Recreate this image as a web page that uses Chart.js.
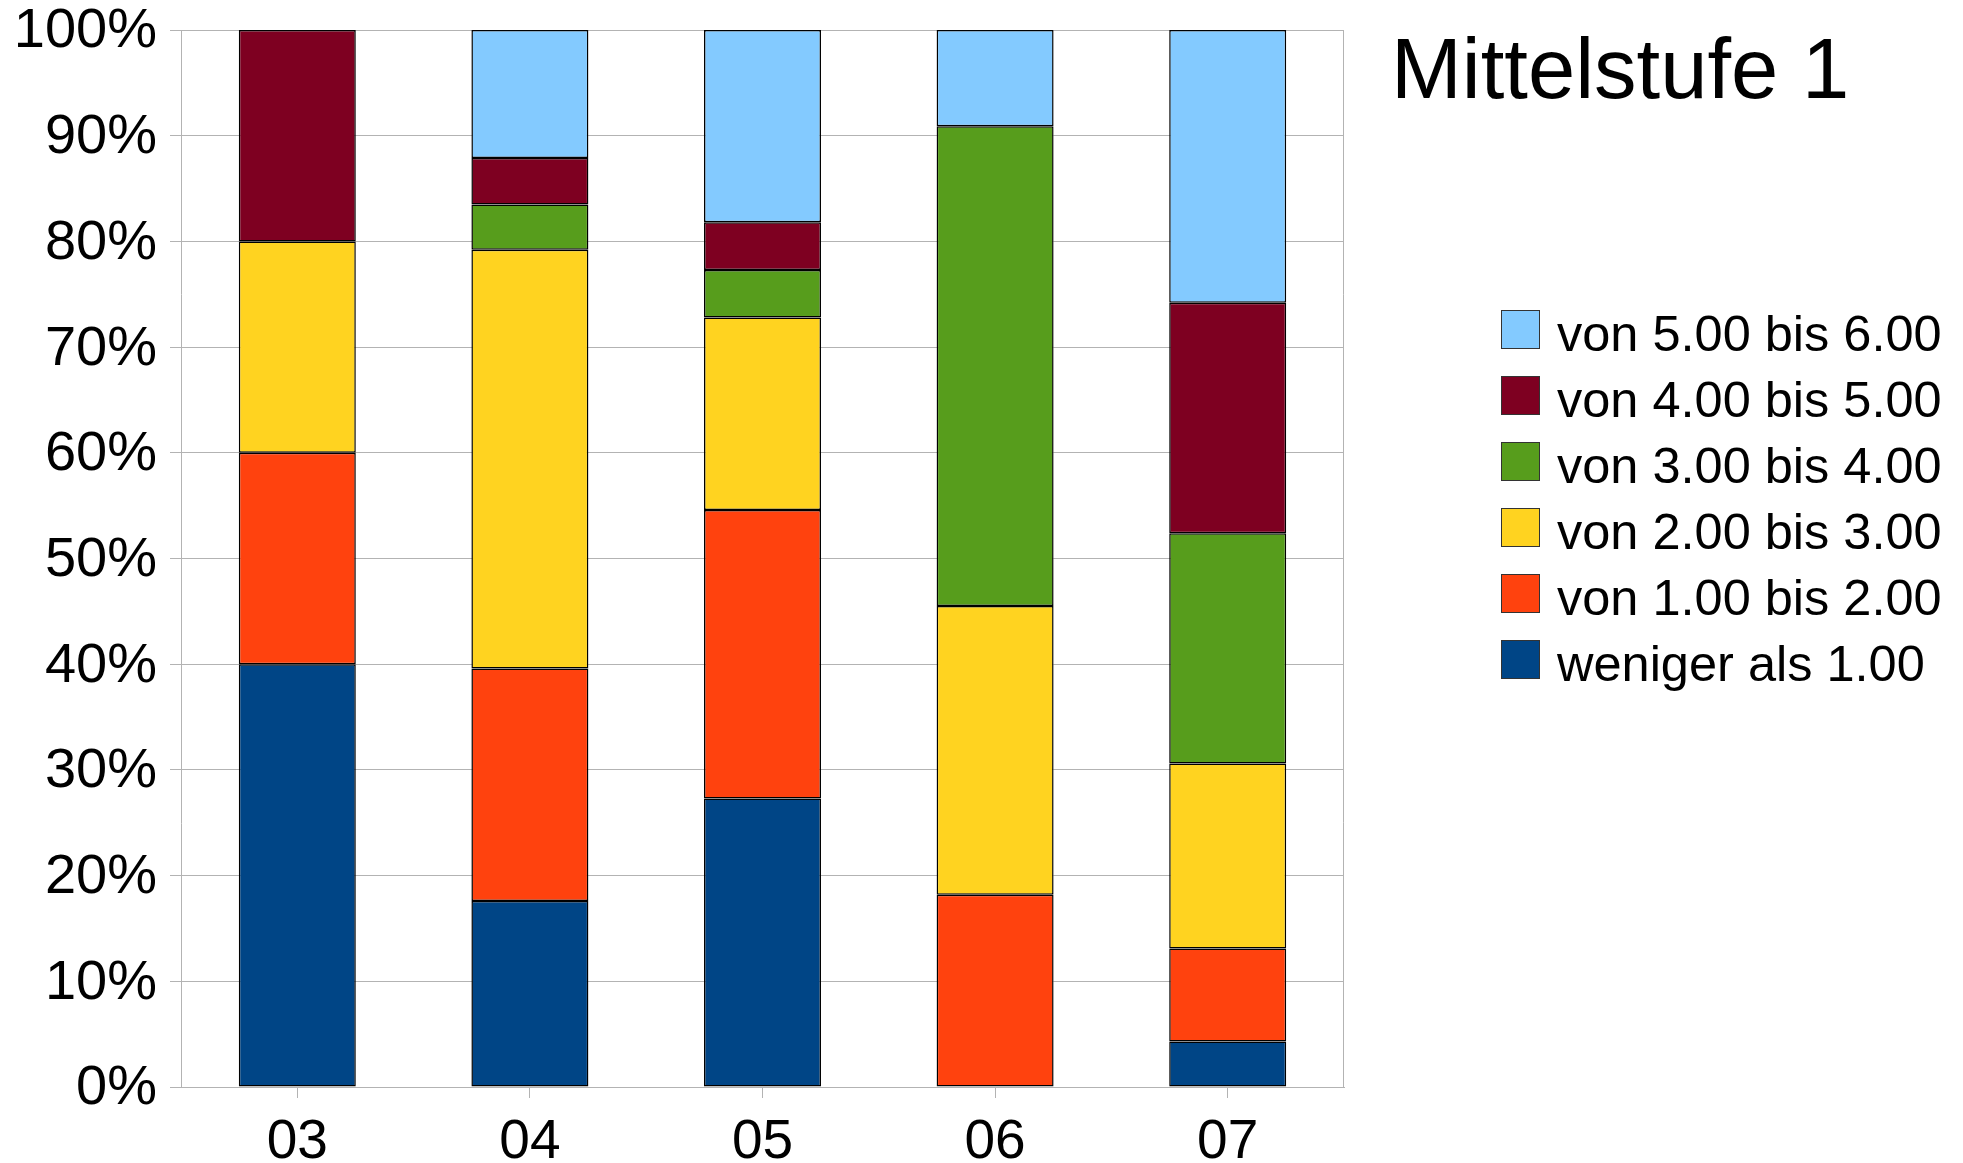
<!DOCTYPE html>
<html>
<head>
<meta charset="utf-8">
<script src="https://cdn.jsdelivr.net/npm/chart.js@4/dist/chart.umd.min.js"></script>
<style>
  html, body { margin: 0; padding: 0; background: #fff; }
  #wrap { width: 1963px; height: 1163px; position: relative; }
</style>
</head>
<body>
<div id="wrap"><canvas id="c" width="1963" height="1163"></canvas></div>
<script>
const categories = ['03', '04', '05', '06', '07'];
const titleText = 'Mittelstufe 1';
const yTickValues = [0, 10, 20, 30, 40, 50, 60, 70, 80, 90, 100];

// Percentages per category (bottom to top of stack)
const wenigerAls1 = [40, 17.6, 27.3, 0, 4.3];
const von1bis2    = [20, 22.0, 27.3, 18.2, 8.8];
const von2bis3    = [20, 39.6, 18.2, 27.3, 17.5];
const von3bis4    = [0, 4.3, 4.5, 45.4, 21.8];
const von4bis5    = [20, 4.4, 4.5, 0, 21.8];
const von5bis6    = [0, 12.1, 18.2, 9.1, 25.8];

const seriesLabels = ['weniger als 1.00', 'von 1.00 bis 2.00', 'von 2.00 bis 3.00', 'von 3.00 bis 4.00', 'von 4.00 bis 5.00', 'von 5.00 bis 6.00'];
const seriesColors = ['#004586', '#ff420e', '#ffd320', '#579d1c', '#7e0021', '#83caff'];
const seriesData = [wenigerAls1, von1bis2, von2bis3, von3bis4, von4bis5, von5bis6];

const FONT = '"Liberation Sans", Arial, sans-serif';
const GRID = '#b3b3b3';

const sidePlugin = {
  id: 'side',
  beforeDatasetsDraw(chart) {
    const ctx = chart.ctx, a = chart.chartArea;
    ctx.save();
    ctx.strokeStyle = GRID;
    ctx.lineWidth = 1;
    ctx.beginPath();
    ctx.moveTo(Math.round(a.right) - 0.5, a.top);
    ctx.lineTo(Math.round(a.right) - 0.5, a.bottom);
    ctx.stroke();
    ctx.restore();
  },
  afterDraw(chart) {
    const ctx = chart.ctx;
    ctx.save();
    ctx.fillStyle = '#000';
    ctx.textBaseline = 'alphabetic';
    ctx.textAlign = 'left';
    ctx.font = '85px ' + FONT;
    ctx.fillText(titleText, 1391, 98);
    ctx.font = '50.5px ' + FONT;
    const ds = chart.data.datasets;
    for (let i = ds.length - 1, row = 0; i >= 0; i--, row++) {
      const top = 310 + row * 66;
      ctx.fillStyle = ds[i].backgroundColor;
      ctx.fillRect(1501, top, 39, 39);
      ctx.strokeStyle = '#333';
      ctx.lineWidth = 1;
      ctx.strokeRect(1501.5, top + 0.5, 38, 38);
      ctx.fillStyle = '#000';
      ctx.fillText(ds[i].label, 1557, top + 41);
    }
    ctx.restore();
  }
};

new Chart(document.getElementById('c'), {
  type: 'bar',
  data: {
    labels: categories,
    datasets: seriesData.map((d, i) => ({
      label: seriesLabels[i],
      data: d,
      backgroundColor: seriesColors[i],
      borderColor: '#000',
      borderWidth: 1.5,
      borderSkipped: false,
      categoryPercentage: 1.0,
      barPercentage: 0.503
    }))
  },
  options: {
    responsive: false,
    animation: false,
    layout: { padding: { left: 0, top: 30, right: 619, bottom: 0 } },
    plugins: { legend: { display: false }, tooltip: { enabled: false }, title: { display: false } },
    scales: {
      x: {
        stacked: true,
        afterFit(s) { s.height = 76; },
        grid: { display: true, drawOnChartArea: false, drawTicks: true, tickLength: 11, offset: false, color: GRID },
        border: { display: true, color: GRID },
        ticks: { color: '#000', font: { family: FONT, size: 55, lineHeight: 1 }, padding: 17, maxRotation: 0 }
      },
      y: {
        stacked: true,
        min: 0, max: 100,
        afterFit(s) { s.width = 181; },
        afterBuildTicks(s) { s.ticks = yTickValues.map(v => ({ value: v })); },
        grid: { color: GRID, tickLength: 11, drawTicks: true },
        border: { display: true, color: GRID },
        ticks: { color: '#000', font: { family: FONT, size: 56, lineHeight: 0.5 }, padding: 13, labelOffset: 2, callback: v => v + '%' }
      }
    }
  },
  plugins: [sidePlugin]
});
</script>
</body>
</html>
